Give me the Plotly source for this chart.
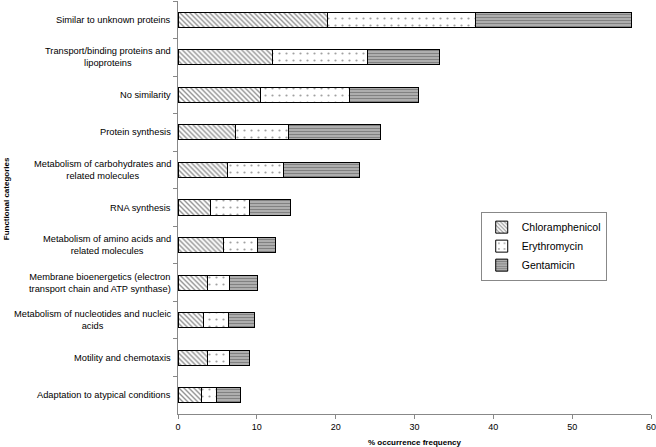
import plotly.graph_objects as go

categories = [
    "Similar to unknown proteins",
    "Transport/binding proteins and<br>lipoproteins",
    "No similarity",
    "Protein synthesis",
    "Metabolism of carbohydrates and<br>related molecules",
    "RNA synthesis",
    "Metabolism of amino acids and<br>related molecules",
    "Membrane bioenergetics (electron<br>transport chain and ATP synthase)",
    "Metabolism of nucleotides and nucleic<br>acids",
    "Motility and chemotaxis",
    "Adaptation to atypical conditions",
]
chloramphenicol = [18.9, 12.0, 10.5, 7.3, 6.3, 4.1, 5.8, 3.8, 3.2, 3.8, 3.0]
erythromycin = [18.9, 12.0, 11.3, 6.7, 7.1, 5.0, 4.3, 2.7, 3.2, 2.75, 1.9]
gentamicin = [19.7, 9.2, 8.7, 11.7, 9.6, 5.2, 2.3, 3.6, 3.3, 2.55, 3.0]
x_ticks = [0, 10, 20, 30, 40, 50, 60]

FONT = "Liberation Sans, Arial, sans-serif"

fig = go.Figure()
fig.add_trace(go.Bar(
    y=categories, x=chloramphenicol, orientation="h", name="Chloramphenicol",
    marker=dict(color="white", line=dict(color="black", width=1),
                pattern=dict(shape="\\", fgcolor="#222222", bgcolor="white", size=3.5, solidity=0.4)),
))
fig.add_trace(go.Bar(
    y=categories, x=erythromycin, orientation="h", name="Erythromycin",
    marker=dict(color="white", line=dict(color="black", width=1),
                pattern=dict(shape=".", fgcolor="#444444", bgcolor="white", size=7, solidity=0.08)),
))
fig.add_trace(go.Bar(
    y=categories, x=gentamicin, orientation="h", name="Gentamicin",
    marker=dict(color="white", line=dict(color="black", width=1),
                pattern=dict(shape="-", fgcolor="#2a2a2a", bgcolor="#d8d8d8", size=3, solidity=0.65)),
))

for c in categories:
    fig.add_annotation(
        x=0, xref="paper", y=c, yref="y", text=c, showarrow=False,
        xanchor="right", yanchor="middle", align="center", xshift=-5,
        font=dict(family=FONT, size=9.3, color="black"),
    )

fig.add_annotation(
    x=0.5, xref="paper", y=0, yref="paper", yshift=-28, text="<b>% occurrence frequency</b>",
    showarrow=False, xanchor="center", yanchor="middle",
    font=dict(family=FONT, size=8, color="black"),
)
fig.add_annotation(
    x=0, xref="paper", xshift=-172, y=0.52, yref="paper", text="<b>Functional categories</b>",
    textangle=-90, showarrow=False, xanchor="center", yanchor="middle",
    font=dict(family=FONT, size=8, color="black"),
)

fig.update_layout(
    barmode="stack",
    bargap=0.6,
    width=656, height=447,
    margin=dict(l=178, r=5, t=1, b=33, autoexpand=False),
    plot_bgcolor="white", paper_bgcolor="white",
    font=dict(family=FONT, size=9, color="black"),
    legend=dict(
        x=0.64, y=0.49, xanchor="left", yanchor="top",
        bordercolor="#888888", borderwidth=1, bgcolor="white",
        font=dict(family=FONT, size=10.5, color="black"),
        traceorder="normal", tracegroupgap=0, itemwidth=30,
    ),
    xaxis=dict(
        range=[0, 60], tickvals=x_ticks, ticks="outside", ticklen=4,
        tickcolor="#888888", showline=True, linecolor="#888888", linewidth=1,
        showgrid=False, zeroline=False, automargin=False, ticklabeloverflow="allow",
        tickfont=dict(family=FONT, size=9),
    ),
    yaxis=dict(
        autorange="reversed", showticklabels=False, ticks="outside", ticklen=4,
        tickson="boundaries", tickcolor="#888888", automargin=False,
        showline=True, linecolor="#888888", linewidth=1, showgrid=False,
    ),
    showlegend=True,
)

fig.write_html(
    "out.html",
    config={"displayModeBar": False},
    post_script="document.body.style.margin='0px';document.body.style.padding='0px';",
)
